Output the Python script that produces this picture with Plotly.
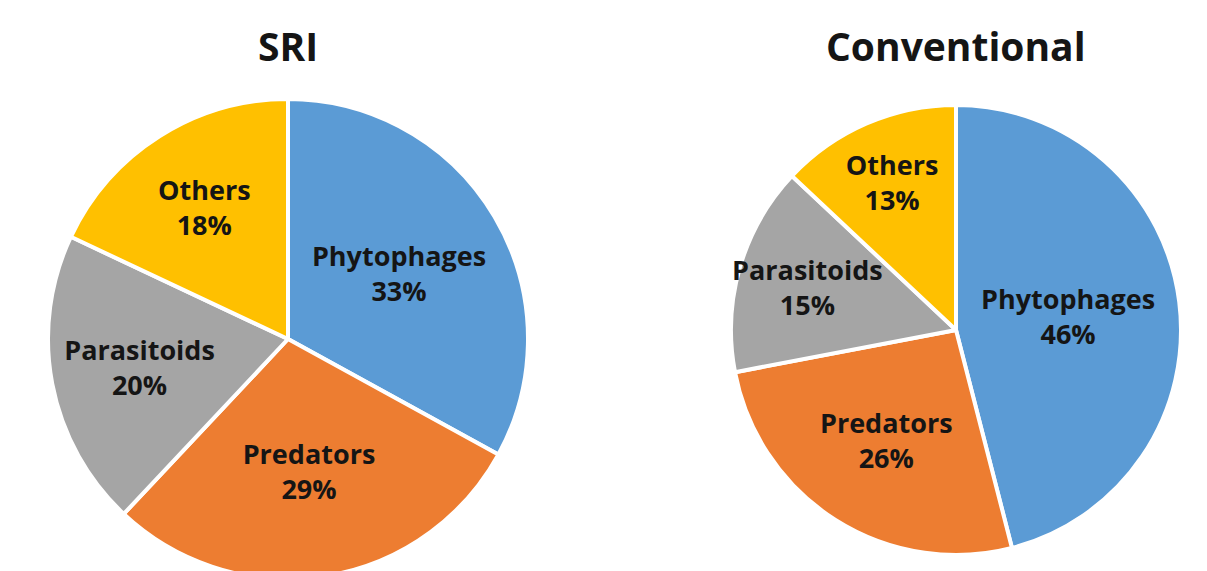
import plotly.graph_objects as go

categories = ["Phytophages", "Predators", "Parasitoids", "Others"]
sri_values = [33, 29, 20, 18]
conv_values = [46, 26, 15, 13]
colors = ["#5B9BD5", "#ED7D31", "#A5A5A5", "#FFC000"]
titles = ["SRI", "Conventional"]

W, H = 1207, 571
FONT = "Open Sans"
LABEL_SIZE = 27

def pie(values, domain):
    return go.Pie(
        labels=categories,
        values=values,
        sort=False,
        direction="clockwise",
        rotation=0,
        marker=dict(colors=colors, line=dict(color="white", width=4)),
        texttemplate="%{label}<br>%{percent:.0%}",
        textposition="inside",
        insidetextorientation="horizontal",
        textfont=dict(family=FONT, size=LABEL_SIZE, color="#151515", weight="bold"),
        hole=0,
        domain=domain,
        showlegend=False,
    )

fig = go.Figure()
fig.add_trace(pie(sri_values, dict(x=[10 / W, 550 / W], y=[0.0, 480 / H])))
fig.add_trace(pie(conv_values, dict(x=[693 / W, 1203 / W], y=[24 / H, 474 / H])))

for t, cx in zip(titles, [280, 948]):
    fig.add_annotation(
        text=t, x=cx / W, y=1 - 37 / H, xref="paper", yref="paper",
        showarrow=False, xanchor="center", yanchor="middle",
        font=dict(family=FONT, size=39, color="#151515", weight="bold"),
    )

fig.update_layout(
    width=W, height=H,
    margin=dict(l=0, r=0, t=0, b=0),
    paper_bgcolor="white", plot_bgcolor="white",
    uniformtext=dict(minsize=LABEL_SIZE, mode="show"),
)

fig.write_html("out.html")
